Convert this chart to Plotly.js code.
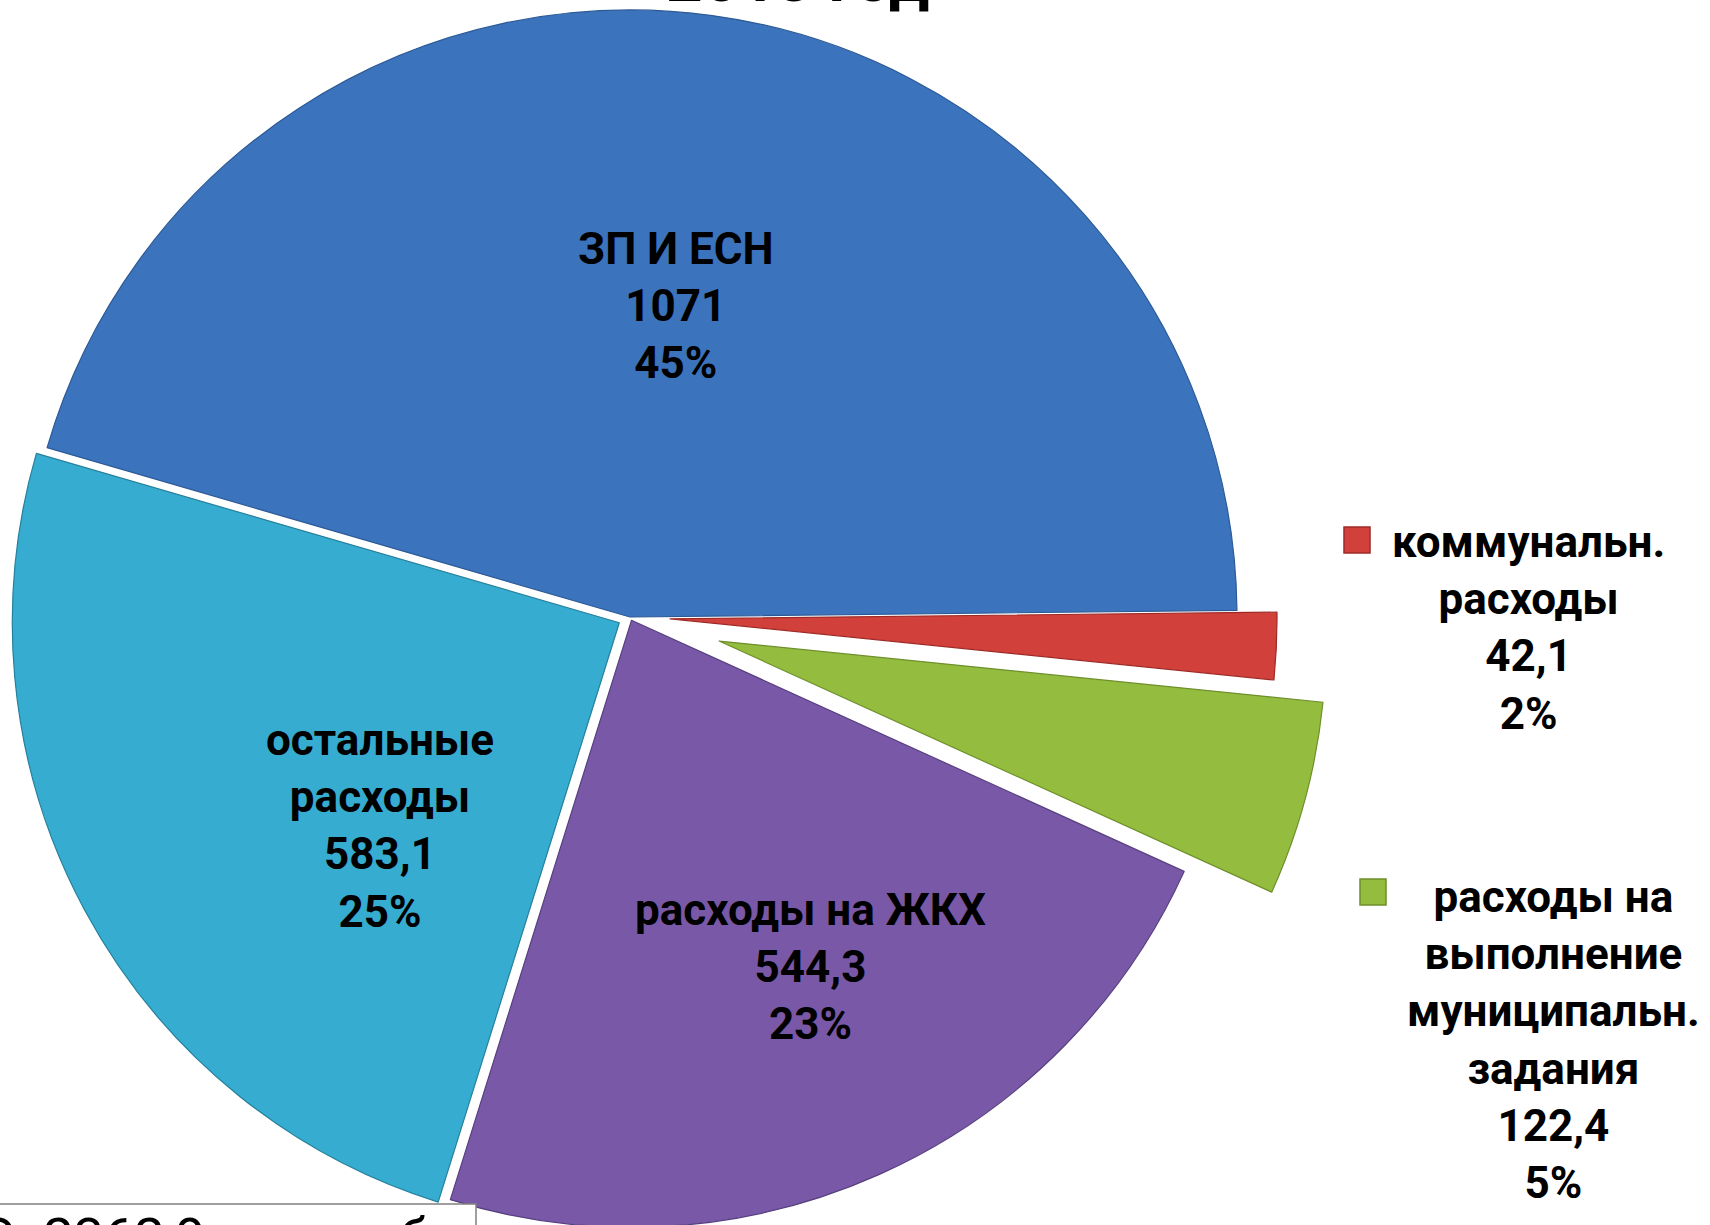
<!DOCTYPE html>
<html><head><meta charset="utf-8">
<script src="https://cdn.plot.ly/plotly-3.0.1.min.js"></script>
<style>
html,body{margin:0;padding:0;width:1710px;height:1225px;overflow:hidden;background:#fff;}
#chart{position:absolute;left:-100px;top:-100px;width:1810px;height:1425px;}
</style></head><body><div id="chart"></div>
<script>
// ---- data ----
const categories = ['ЗП И ЕСН', 'коммунальн. расходы', 'расходы на выполнение муниципальн. задания', 'расходы на ЖКХ', 'остальные расходы'];
const labelLines = [['ЗП И ЕСН'], ['коммунальн.', 'расходы'], ['расходы на', 'выполнение', 'муниципальн.', 'задания'], ['расходы на ЖКХ'], ['остальные', 'расходы']];
const values = [1071, 42.1, 122.4, 544.3, 583.1];
const titleText = '2013 год';
const totalPrefix = 'ИТОГО: ';
const totalUnit = ' тыс. руб';

// ---- styles / geometry ----
const colors = ['#3B73BD', '#D2403B', '#94BD40', '#7858A7', '#36ACD1'];
const edgeColors = ['#2C5A96', '#9E2A26', '#6E8F2A', '#574080', '#24809C'];
const pulls = [0, 0.066, 0.152, 0.006, 0.02];
const L = 100, T = 100, W = 1810, H = 1425;       // div offset/size
const CX = 630, CY = 617, R = 607;                 // pie centre / radius on page
const labelPos = [[676, 306], [1528, 628], [1553, 1040], [810, 967], [380, 826]];
const markerPos = [null, [1357, 540], [1373, 892], null, null];
const FS = 44;

const xp = x => (x + L) / W;
const yp = y => 1 - (y + T) / H;
const total = values.reduce((a, b) => a + b, 0);
const fmt = v => String(v).replace('.', ',');
const pct = v => Math.round(v / total * 100) + '%';

const maxPull = Math.max(...pulls);
const half = R * (1 + maxPull);

const trace = {
  type: 'pie',
  labels: categories,
  values: values,
  sort: false,
  direction: 'clockwise',
  rotation: -73.8,
  pull: pulls,
  textinfo: 'none',
  hoverinfo: 'label+value+percent',
  showlegend: false,
  marker: {colors: colors, line: {color: edgeColors, width: 1.2}},
  domain: {x: [xp(CX - half), xp(CX + half)], y: [yp(CY + half), yp(CY - half)]}
};

const annotations = [];
const shapes = [];
values.forEach((v, i) => {
  const txt = labelLines[i].concat([fmt(v), pct(v)]).join('<br>');
  annotations.push({
    xref: 'paper', yref: 'paper', x: xp(labelPos[i][0]), y: yp(labelPos[i][1]),
    xanchor: 'center', yanchor: 'middle', showarrow: false, align: 'center',
    text: txt, font: {family: 'Roboto', size: FS, color: '#000', weight: 700}
  });
  if (markerPos[i]) {
    const [mx, my] = markerPos[i];
    shapes.push({type: 'rect', xref: 'paper', yref: 'paper',
      x0: xp(mx - 13), x1: xp(mx + 13), y0: yp(my + 13), y1: yp(my - 13),
      fillcolor: colors[i], line: {color: edgeColors[i], width: 1.5}});
  }
});

// title (mostly cut off at top of the picture)
annotations.push({xref: 'paper', yref: 'paper', x: xp(797), y: yp(19), xanchor: 'center', yanchor: 'bottom',
  showarrow: false, text: titleText, font: {family: 'Roboto', size: 64, color: '#000', weight: 700}});

// total box (cut off at bottom)
shapes.push({type: 'rect', xref: 'paper', yref: 'paper', layer: 'above',
  x0: xp(-20), x1: xp(476), y0: yp(1300), y1: yp(1204),
  fillcolor: '#fff', line: {color: '#808080', width: 1.5}});
annotations.push({xref: 'paper', yref: 'paper', x: xp(430), y: yp(1204), xanchor: 'right', yanchor: 'top',
  showarrow: false, text: totalPrefix + fmt(Math.round(total * 10) / 10) + totalUnit,
  font: {family: 'Roboto', size: 54, color: '#000'}});

const layout = {
  width: W, height: H,
  margin: {l: 0, r: 0, t: 0, b: 0},
  paper_bgcolor: '#fff', plot_bgcolor: '#fff',
  font: {family: 'Roboto'},
  showlegend: false,
  annotations: annotations,
  shapes: shapes
};
Plotly.newPlot('chart', [trace], layout, {displayModeBar: false, staticPlot: true});
</script></body></html>
